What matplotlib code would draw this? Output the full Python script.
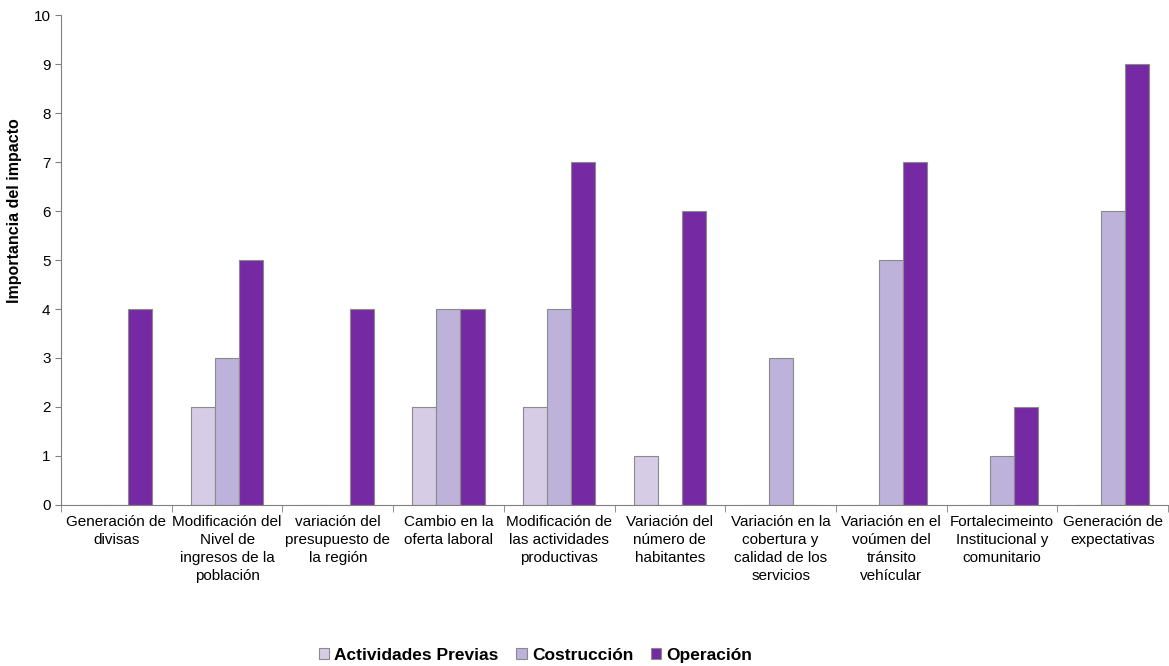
import numpy as np
import matplotlib
matplotlib.use("Agg")
import matplotlib.pyplot as plt

plt.rcParams['font.family'] = ['Liberation Sans', 'DejaVu Sans']

# etiquetas de categorías (tal como aparecen en el gráfico)
categorias = [
    "Generación de\ndivisas",
    "Modificación del\nNivel de\ningresos de la\npoblación",
    "variación del\npresupuesto de\nla región",
    "Cambio en la\noferta laboral",
    "Modificación de\nlas actividades\nproductivas",
    "Variación del\nnúmero de\nhabitantes",
    "Variación en la\ncobertura y\ncalidad de los\nservicios",
    "Variación en el\nvoúmen del\ntránsito\nvehícular",
    "Fortalecimeinto\nInstitucional y\ncomunitario",
    "Generación de\nexpectativas",
]

actividades_previas = [0, 2, 0, 2, 2, 1, 0, 0, 0, 0]
costruccion = [0, 3, 0, 4, 4, 0, 3, 5, 1, 6]
operacion = [4, 5, 4, 4, 7, 6, 0, 7, 2, 9]

series = [
    ("Actividades Previas", actividades_previas, "#d6cce6"),
    ("Costrucción", costruccion, "#bcb2da"),
    ("Operación", operacion, "#7529a3"),
]

fig = plt.figure(figsize=(11.69, 6.66), dpi=100)
ax = fig.add_axes([0.0522, 0.242, 0.947, 0.735])

x = np.arange(len(categorias))
w = 0.217
for i, (nombre, vals, color) in enumerate(series):
    ax.bar(x + (i - 1) * w, vals, width=w, color=color, edgecolor="#8a8a8a",
           linewidth=0.8, label=nombre)

ax.set_xlim(-0.5, len(categorias) - 0.5)
ax.set_ylim(0, 10)
ax.set_yticks(range(0, 11))
ax.tick_params(axis='y', labelsize=11, length=4, color="#808080")

ax.set_xticks(x)
ax.set_xticklabels(categorias, fontsize=11, linespacing=1.38)
ax.set_xticks(np.arange(-0.5, len(categorias), 1), minor=True)
ax.tick_params(axis='x', which='major', length=0, pad=7)
ax.tick_params(axis='x', which='minor', length=5, color="#808080")

for s in ["top", "right"]:
    ax.spines[s].set_visible(False)
for s in ["left", "bottom"]:
    ax.spines[s].set_color("#808080")

ax.set_ylabel("Importancia del impacto", fontsize=11.5, fontweight="bold")
ax.yaxis.set_label_coords(-0.035, 0.602)

fig.legend(loc="center", bbox_to_anchor=(0.458, 0.0165), ncol=3, frameon=False,
           prop={'weight': 'bold', 'size': 12.5}, handlelength=0.6, handleheight=0.6,
           handletextpad=0.3, columnspacing=1.0)

fig.savefig("out.png", dpi=100)
